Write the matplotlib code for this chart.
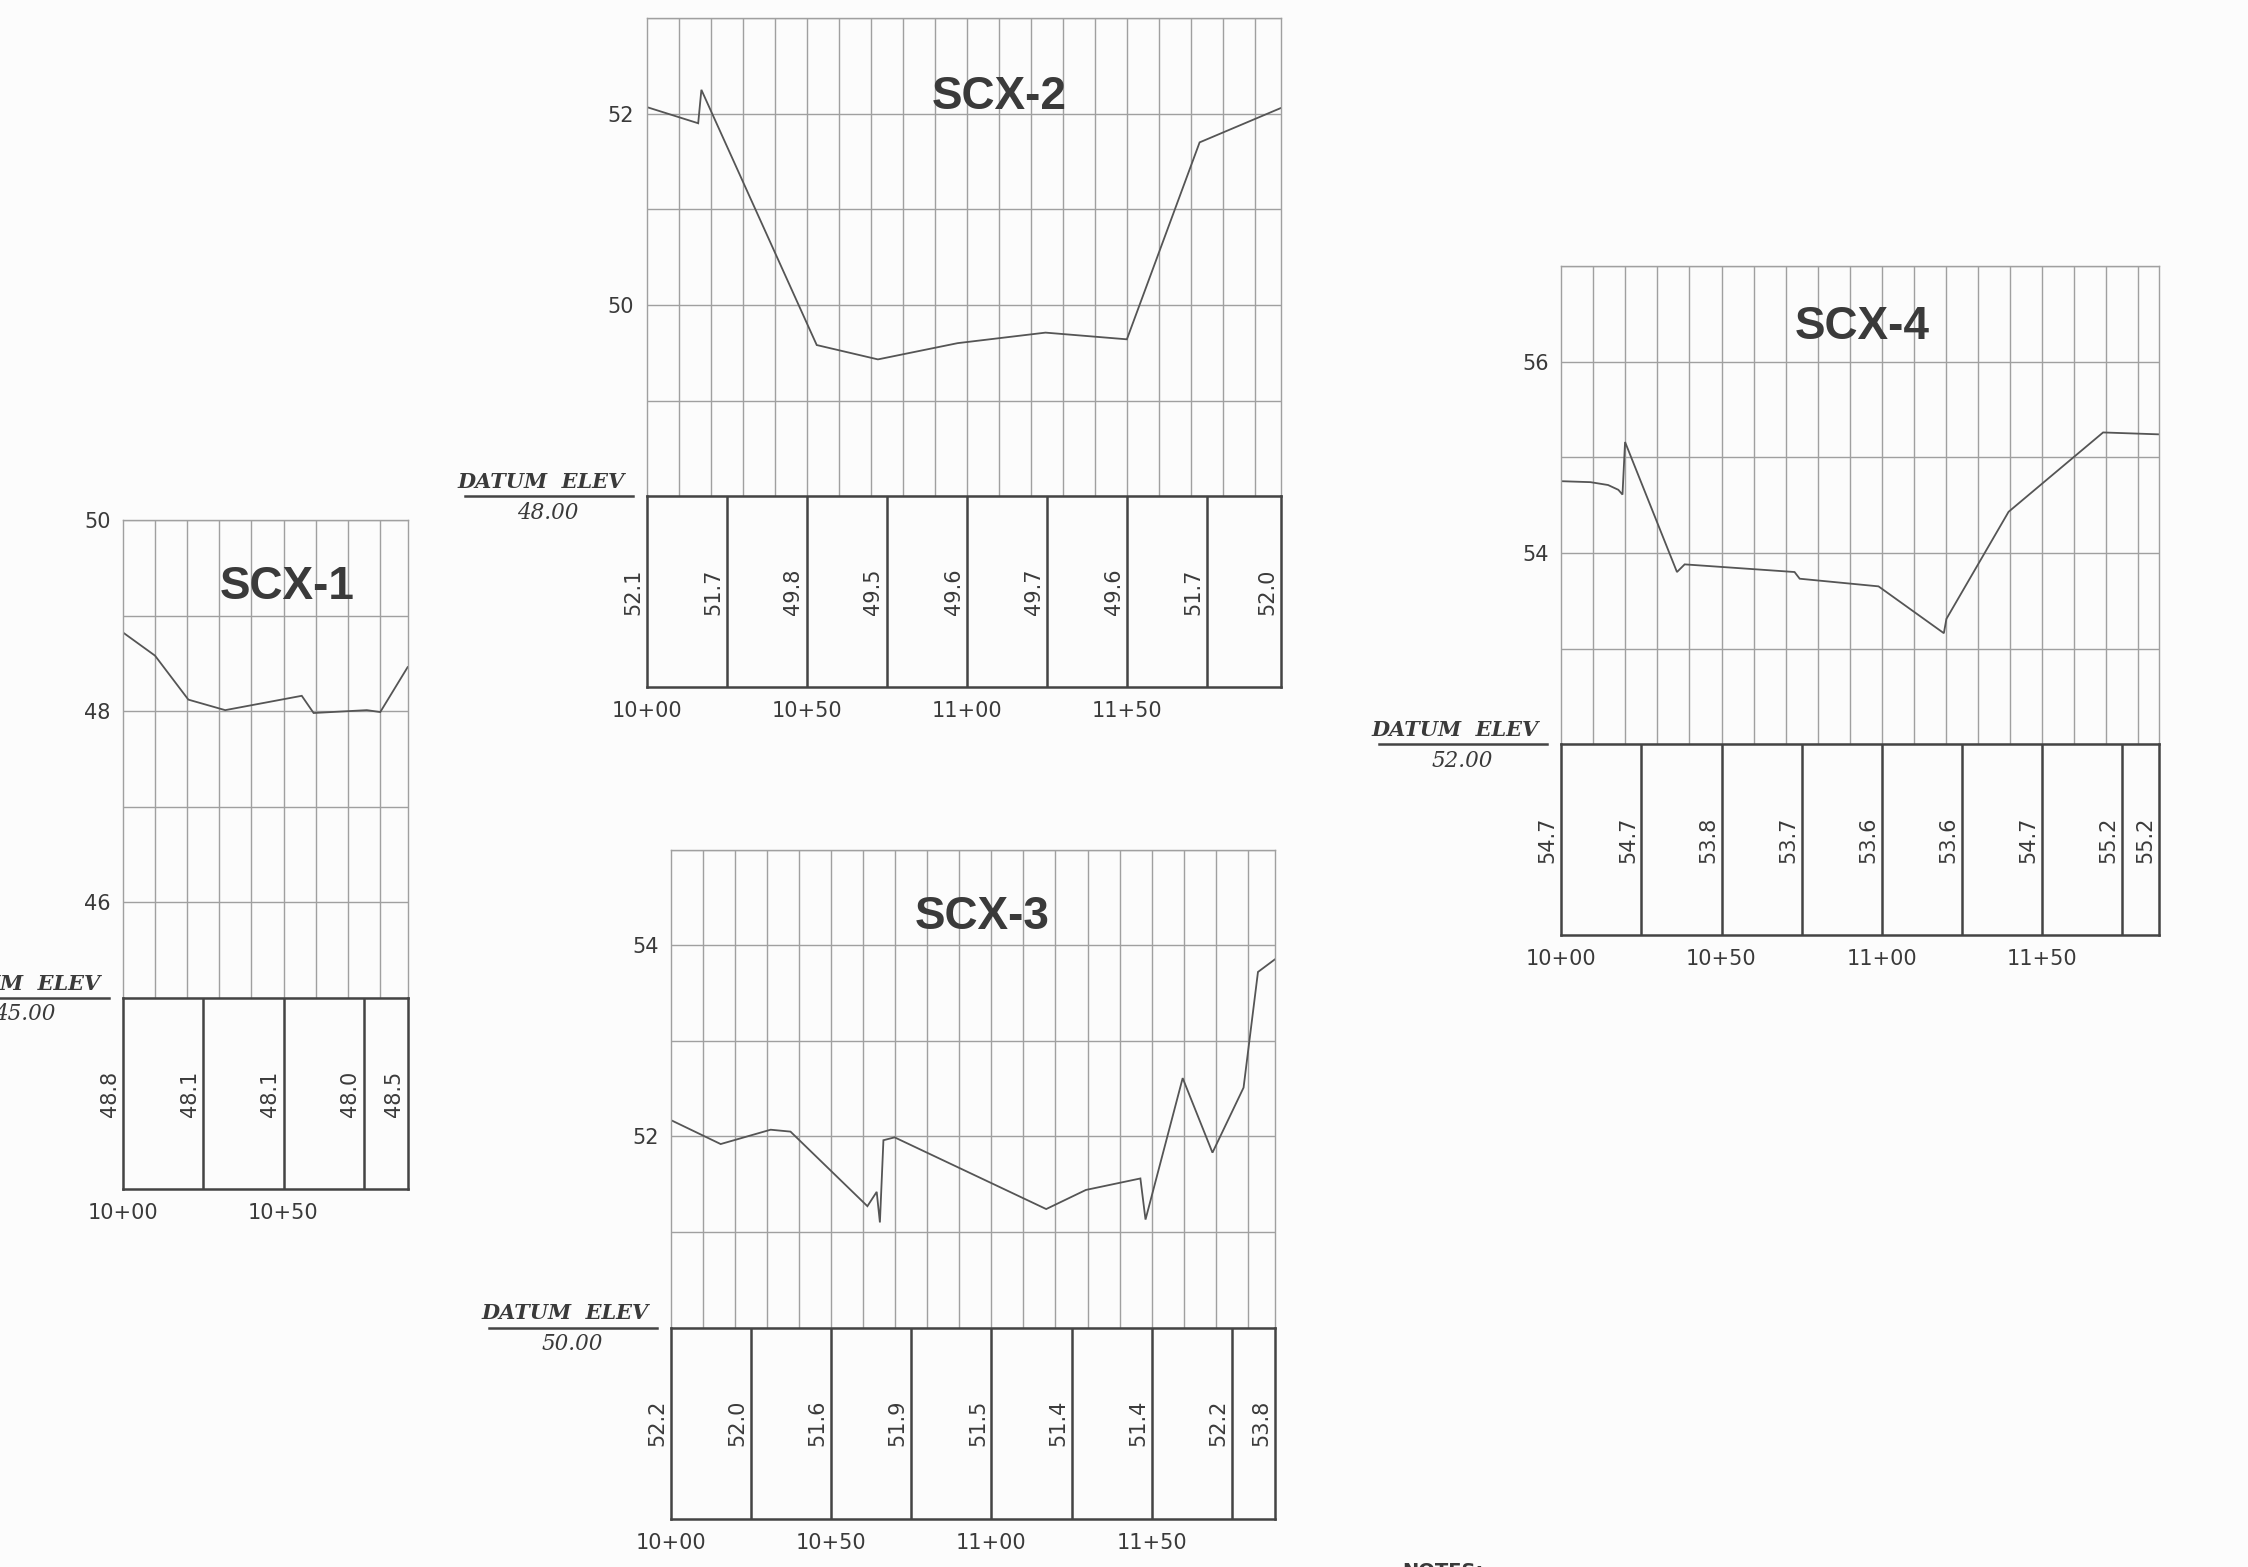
import numpy as np
import matplotlib.pyplot as plt

# ---- profile data: station offset from 10+00 (ft) and ground elevation ----
scx1_sta = [0, 9.9, 20.3, 31.8, 55.7, 59.4, 76.0, 80.2, 88.75]
scx1_elev = [48.82, 48.58, 48.12, 48.01, 48.16, 47.98, 48.01, 47.99, 48.46]
scx1_table = [48.8, 48.1, 48.1, 48.0, 48.5]

scx2_sta = [0, 16.1, 17.1, 53.1, 72.2, 97.1, 124.5, 149.9, 172.6, 198.0]
scx2_elev = [52.07, 51.90, 52.25, 49.58, 49.43, 49.60, 49.71, 49.64, 51.70, 52.06]
scx2_table = [52.1, 51.7, 49.8, 49.5, 49.6, 49.7, 49.6, 51.7, 52.0]

scx3_sta = [0, 15.5, 31.1, 37.3, 61.3, 64.2, 65.2, 66.3, 69.8, 117.1,
            129.5, 146.5, 148.1, 159.7, 169.0, 178.7, 183.2, 188.4]
scx3_elev = [52.17, 51.92, 52.07, 52.05, 51.27, 51.42, 51.10, 51.96, 51.99, 51.24,
             51.44, 51.56, 51.13, 52.61, 51.83, 52.51, 53.72, 53.85]
scx3_table = [52.2, 52.0, 51.6, 51.9, 51.5, 51.4, 51.4, 52.2, 53.8]

scx4_sta = [0, 9.1, 14.6, 17.8, 19.1, 19.9, 36.1, 38.5, 72.8, 74.4, 99.0,
            119.4, 120.2, 139.6, 169.1, 186.6]
scx4_elev = [54.75, 54.74, 54.71, 54.66, 54.61, 55.16, 53.80, 53.88, 53.80, 53.73, 53.65,
             53.16, 53.31, 54.43, 55.26, 55.24]
scx4_table = [54.7, 54.7, 53.8, 53.7, 53.6, 53.6, 54.7, 55.2, 55.2]

names = ["SCX-1", "SCX-2", "SCX-3", "SCX-4"]
datums = [45.0, 48.0, 50.0, 52.0]

# ---- layout (pixels on a 2248 x 1567 sheet) ----
W, H = 2248, 1567
PX_FT = 3.204      # horizontal px per ft
PX_EL = 95.6       # vertical px per ft of elevation
# left edge px, datum line px (from top), station length, title (sta, drop below top)
layout = {
    "SCX-1": dict(left=123.3, datum_y=997.9, length=88.75, title=(51, 0.70)),
    "SCX-2": dict(left=646.6, datum_y=496.1, length=198.0, title=(110, 0.83)),
    "SCX-3": dict(left=671.0, datum_y=1327.6, length=188.4, title=(97, 0.71)),
    "SCX-4": dict(left=1561.3, datum_y=744.1, length=186.6, title=(94, 0.64)),
}

GRID = "#a0a0a0"
DARK = "#444444"
LINE = "#555555"
TXT = "#3a3a3a"
SANS = "DejaVu Sans"
SERIF = "DejaVu Serif"

fig = plt.figure(figsize=(W / 100, H / 100), dpi=100, facecolor="#fcfcfc")


def station_label(s):
    v = 1000 + int(round(s))
    return f"{v // 100}+{v % 100:02d}"


def draw_panel(name, sta, elev, table_vals, datum):
    lay = layout[name]
    length = lay["length"]
    w = length * PX_FT
    h = 5 * PX_EL
    top = datum + 5
    ax = fig.add_axes([lay["left"] / W, (H - lay["datum_y"]) / H, w / W, h / H])
    tb = fig.add_axes([lay["left"] / W, (H - lay["datum_y"] - 2 * PX_EL) / H, w / W, 2 * PX_EL / H])
    for a in (ax, tb):
        a.set_facecolor("none")

    # profile grid
    ax.set_xlim(0, length)
    ax.set_ylim(datum, top)
    ax.set_xticks(np.arange(10, length, 10))
    ax.set_xticklabels([])
    yt = np.arange(datum, top + 0.01, 1)
    ax.set_yticks(yt)
    ax.set_yticklabels([f"{v:.0f}" if (v % 2 == 0 and v > datum) else "" for v in yt])
    ax.tick_params(length=0, pad=9, labelsize=15, labelcolor=TXT)
    for lab in ax.get_yticklabels():
        lab.set_family(SANS)
    ax.grid(True, color=GRID, linewidth=1.0)
    for sp in ax.spines.values():
        sp.set_color(GRID)
        sp.set_linewidth(1.0)
    ax.spines["bottom"].set_visible(False)

    ax.plot(sta, elev, color=LINE, linewidth=1.3, solid_joinstyle="miter")

    tx, tdrop = lay["title"]
    ax.text(tx, top - tdrop, name, ha="center", va="center", fontsize=33,
            fontweight="bold", family="Liberation Sans", color=TXT)

    # data table
    tb.set_xlim(0, length)
    tb.set_ylim(0, 1)
    tb.set_yticks([])
    ticks = np.arange(0, length, 50)
    tb.set_xticks(ticks)
    tb.set_xticklabels([station_label(s) for s in ticks], family=SANS)
    tb.tick_params(length=0, pad=10, labelsize=15, labelcolor=TXT)
    for sp in tb.spines.values():
        sp.set_color(DARK)
        sp.set_linewidth(1.8)
    cells = np.arange(25, length - 1, 25)
    tb.vlines(cells, 0, 1, color=DARK, linewidth=1.8)
    label_sta = list(np.arange(0, length - 1, 25)) + [length]
    for s, v in zip(label_sta, table_vals):
        tb.annotate(f"{v:.1f}", xy=(s, 0.5), xytext=(-2.5, 0), textcoords="offset points",
                    rotation=90, ha="right", va="center", fontsize=15,
                    family=SANS, color=TXT, annotation_clip=False)

    # datum label
    tb.annotate("DATUM  ELEV", xy=(0, 1), xycoords="axes fraction", xytext=(-16, 3),
                textcoords="offset points", ha="right", va="bottom", fontsize=15,
                family=SERIF, fontweight="bold", style="italic", color=TXT)
    tb.annotate(f"{datum:.2f}", xy=(0, 1), xycoords="axes fraction", xytext=(-49, -4),
                textcoords="offset points", ha="right", va="top", fontsize=15.5,
                family=SERIF, style="italic", color=TXT)
    tb.plot([-182 / w, -14 / w], [1, 1], transform=tb.transAxes, clip_on=False,
            color=DARK, linewidth=1.8)


draw_panel("SCX-1", scx1_sta, scx1_elev, scx1_table, datums[0])
draw_panel("SCX-2", scx2_sta, scx2_elev, scx2_table, datums[1])
draw_panel("SCX-3", scx3_sta, scx3_elev, scx3_table, datums[2])
draw_panel("SCX-4", scx4_sta, scx4_elev, scx4_table, datums[3])

# sheet notes heading, running off the bottom edge as on the original sheet
fig.text(1402 / W, 1 - 1562 / H, "NOTES:", ha="left", va="top", fontsize=14,
         family=SANS, fontweight="bold", color=TXT)

fig.savefig("out.png", dpi=100, facecolor=fig.get_facecolor())
